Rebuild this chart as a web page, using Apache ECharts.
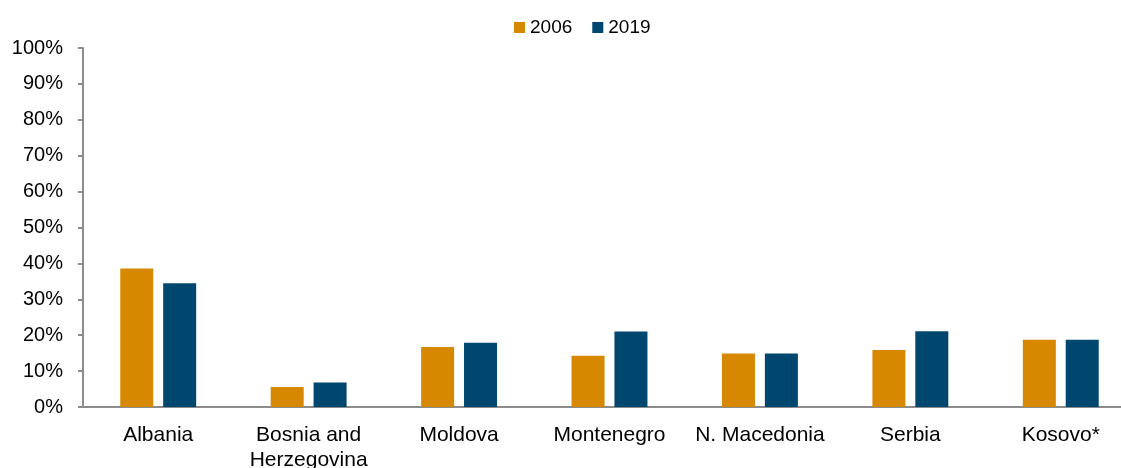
<!DOCTYPE html>
<html>
<head>
<meta charset="utf-8">
<script src="https://cdn.jsdelivr.net/npm/echarts@6/dist/echarts.min.js"></script>
<style>
html,body{margin:0;padding:0;background:#fff;overflow:hidden;}
#chart{width:1121px;height:468px;}
</style>
</head>
<body>
<div id="chart"></div>
<script>
const categories = ["Albania", "Bosnia and\nHerzegovina", "Moldova", "Montenegro", "N. Macedonia", "Serbia", "Kosovo*"];
const seriesNames = ["2006", "2019"];
const values2006 = [38.6, 5.6, 16.7, 14.3, 14.9, 15.9, 18.7];
const values2019 = [34.5, 6.8, 17.9, 21.0, 14.9, 21.1, 18.7];
const yTicks = [0, 10, 20, 30, 40, 50, 60, 70, 80, 90, 100];

const chart = echarts.init(document.getElementById('chart'), null, {renderer: 'canvas'});
const font = 'Liberation Sans, Arial, sans-serif';
chart.setOption({
  animation: false,
  backgroundColor: '#ffffff',
  textStyle: {fontFamily: font},
  legend: {
    data: seriesNames,
    left: 509,
    top: 13,
    icon: 'rect',
    itemWidth: 11,
    itemHeight: 11,
    itemGap: 20,
    textStyle: {fontSize: 19, color: '#000', fontFamily: font}
  },
  grid: {left: 83, top: 48, width: 1053, height: 359, containLabel: false, outerBoundsMode: 'none'},
  xAxis: {
    type: 'category',
    data: categories,
    axisLine: {show: true, lineStyle: {color: '#8c8c8c', width: 2}},
    axisTick: {show: false},
    axisLabel: {fontSize: 21, color: '#000', fontFamily: font, margin: 16, lineHeight: 25, interval: 0}
  },
  yAxis: {
    type: 'value',
    min: yTicks[0],
    max: yTicks[yTicks.length - 1],
    interval: 10,
    axisLine: {show: true, lineStyle: {color: '#8c8c8c', width: 2}},
    axisTick: {show: true, length: 5, lineStyle: {color: '#8c8c8c', width: 2}},
    splitLine: {show: false},
    axisLabel: {fontSize: 20, color: '#000', fontFamily: font, margin: 20, formatter: '{value}%'}
  },
  series: [
    {name: seriesNames[0], type: 'bar', data: values2006, barWidth: 33, barGap: '30%',
     itemStyle: {color: '#D68800'}},
    {name: seriesNames[1], type: 'bar', data: values2019, barWidth: 33, barGap: '30%',
     itemStyle: {color: '#00476F'}}
  ]
});
</script>
</body>
</html>
